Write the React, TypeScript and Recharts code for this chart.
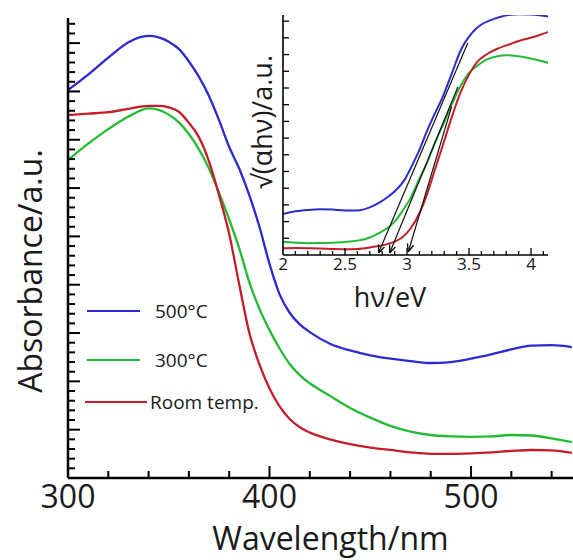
import React from 'react';
import { LineChart, Line, XAxis, YAxis, Legend, Label } from 'recharts';

const FONT = '"Open Sans", "DejaVu Sans", sans-serif';
const TXT = '#1a1a1a';
const BLUE = '#2b2bd0';
const GREEN = '#22bb33';
const RED = '#c41e2a';

// ---------- main chart data ----------
const wavelength = [300, 310, 320, 330, 340, 345, 350, 355, 360, 365, 370, 375, 380, 385, 390, 395, 400, 405, 410, 415, 420, 430, 440, 450, 460, 470, 480, 490, 500, 510, 520, 530, 540, 550];
const abs500 = [8.03, 8.35, 8.7, 9.02, 9.15, 9.12, 9.03, 8.88, 8.62, 8.3, 7.9, 7.4, 6.85, 6.4, 5.85, 5.2, 4.43, 3.8, 3.42, 3.18, 3.02, 2.78, 2.64, 2.54, 2.47, 2.42, 2.38, 2.4, 2.47, 2.56, 2.66, 2.74, 2.75, 2.71];
const abs300 = [6.58, 6.92, 7.22, 7.48, 7.65, 7.62, 7.52, 7.36, 7.12, 6.8, 6.4, 5.9, 5.35, 4.75, 4.05, 3.5, 3.06, 2.68, 2.36, 2.13, 1.96, 1.7, 1.45, 1.25, 1.08, 0.96, 0.89, 0.86, 0.85, 0.86, 0.89, 0.88, 0.82, 0.74];
const absRoom = [7.51, 7.54, 7.57, 7.64, 7.7, 7.7, 7.67, 7.58, 7.35, 7.05, 6.55, 5.85, 5.05, 4.0, 3.0, 2.35, 1.85, 1.48, 1.22, 1.05, 0.94, 0.8, 0.7, 0.63, 0.58, 0.53, 0.5, 0.5, 0.51, 0.53, 0.56, 0.58, 0.57, 0.52];

const seriesNames = ['500°C', '300°C', 'Room temp.'];

const mainXTicks = [300, 320, 340, 360, 380, 400, 420, 440, 460, 480, 500, 520, 540];
const mainXLabels = [300, 400, 500];
const mainYMajor = [1, 2, 3, 4, 5, 6, 7, 8, 9];
const mainYTicks: number[] = [];
for (let i = 1; i <= 47; i++) mainYTicks.push(Math.round(i * 2) / 10);

// ---------- inset data ----------
const insetBlueEv = [2.0, 2.1, 2.2, 2.3, 2.4, 2.5, 2.6, 2.7, 2.78, 2.85, 2.92, 2.98, 3.04, 3.1, 3.16, 3.22, 3.29, 3.36, 3.43, 3.47, 3.51, 3.55, 3.6, 3.67, 3.75, 3.83, 3.9, 3.99, 4.07, 4.14];
const insetBlueV = [2.46, 2.62, 2.7, 2.74, 2.72, 2.67, 2.67, 2.85, 3.15, 3.5, 3.95, 4.5, 5.35, 6.3, 7.4, 8.4, 9.5, 10.85, 12.2, 12.75, 13.17, 13.5, 13.8, 14.05, 14.25, 14.38, 14.42, 14.4, 14.35, 14.28];
const insetGreenEv = [2.0, 2.1, 2.2, 2.3, 2.4, 2.5, 2.6, 2.7, 2.77, 2.84, 2.9, 2.96, 3.02, 3.09, 3.16, 3.23, 3.29, 3.36, 3.43, 3.5, 3.57, 3.64, 3.72, 3.8, 3.88, 3.96, 4.05, 4.14];
const insetGreenV = [0.8, 0.74, 0.7, 0.72, 0.74, 0.78, 0.86, 1.05, 1.3, 1.6, 2.0, 2.6, 3.3, 4.4, 5.5, 6.8, 7.8, 9.0, 10.1, 10.9, 11.35, 11.7, 11.88, 11.96, 11.92, 11.82, 11.67, 11.5];
const insetRedEv = [2.0, 2.1, 2.2, 2.3, 2.4, 2.5, 2.6, 2.7, 2.78, 2.84, 2.9, 2.96, 3.03, 3.1, 3.16, 3.22, 3.29, 3.35, 3.43, 3.5, 3.56, 3.65, 3.73, 3.84, 3.94, 4.04, 4.14];
const insetRedV = [0.4, 0.42, 0.41, 0.39, 0.36, 0.34, 0.36, 0.45, 0.55, 0.65, 0.8, 1.05, 1.6, 2.5, 3.6, 5.0, 6.6, 8.0, 9.7, 10.8, 11.5, 12.05, 12.35, 12.65, 12.9, 13.1, 13.36];

// tangent lines (x-intercept point, then point on the curve)
const tangent500 = [[2.77, 0.12], [3.49, 12.7]];
const tangent300 = [[2.86, 0.12], [3.41, 10.06]];
const tangentRoom = [[3.01, 0.18], [3.36, 8.9]];

const insetXTicks = [2.1, 2.2, 2.3, 2.4, 2.5, 2.6, 2.7, 2.8, 2.9, 3.0, 3.1, 3.2, 3.3, 3.4, 3.5, 3.6, 3.7, 3.8, 3.9, 4.0, 4.1];
const insetXLabels = [2, 2.5, 3, 3.5, 4];
const insetYTicks = [1, 2, 3, 4, 5, 6, 7, 8, 9, 10, 11, 12, 13, 14];

const mainData = wavelength.map((nm, i) => ({ nm, b500: abs500[i], b300: abs300[i], room: absRoom[i] }));
const toPts = (xs: number[], ys: number[]) => xs.map((ev, i) => ({ ev, v: ys[i] }));
const insetBlue = toPts(insetBlueEv, insetBlueV);
const insetGreen = toPts(insetGreenEv, insetGreenV);
const insetRed = toPts(insetRedEv, insetRedV);
const tan = (t: number[][]) => t.map(([ev, v]) => ({ ev, v }));

const MainXTick = (p: any) => {
  const v = p.payload.value;
  const major = v % 100 === 0;
  return (
    <g>
      <line x1={p.x} x2={p.x} y1={p.y} y2={p.y - (major ? 12 : 7)} stroke="#000" strokeWidth={2} />
      {mainXLabels.includes(v) && (
        <text x={p.x} y={p.y + 30} textAnchor="middle" fontFamily={FONT} fontSize={32} fill={TXT}>{v}</text>
      )}
    </g>
  );
};

const MainYTick = (p: any) => {
  const v = p.payload.value;
  const major = mainYMajor.includes(v);
  return <line x1={p.x} x2={p.x + (major ? 12 : 7)} y1={p.y} y2={p.y} stroke="#000" strokeWidth={2} />;
};

const InsetXTick = (p: any) => {
  const v = p.payload.value;
  const major = Math.abs(v * 2 - Math.round(v * 2)) < 1e-6;
  return <line x1={p.x} x2={p.x} y1={p.y} y2={p.y - (major ? 7 : 4)} stroke="#000" strokeWidth={1.3} />;
};

const InsetYTick = (p: any) => (
  <line x1={p.x} x2={p.x + 6} y1={p.y} y2={p.y} stroke="#000" strokeWidth={1.3} />
);

const LegendBox = (props: any) => {
  const rows = [
    { y: 21, x1: 7, x2: 60, tx: 75 },
    { y: 70, x1: 7, x2: 60, tx: 75 },
    { y: 112, x1: 5, x2: 67, tx: 70 },
  ];
  const payload = [...(props.payload || [])].sort(
    (a: any, b: any) => seriesNames.indexOf(a.value) - seriesNames.indexOf(b.value)
  );
  return (
    <svg width={220} height={130} style={{ display: 'block' }}>
      {payload.slice(0, 3).map((item: any, i: number) => (
        <g key={i}>
          <line x1={rows[i].x1} x2={rows[i].x2} y1={rows[i].y} y2={rows[i].y} stroke={item.color} strokeWidth={2} />
          <text x={rows[i].tx} y={rows[i].y + 7} fontFamily={FONT} fontSize={19} fill={TXT}>{item.value}</text>
        </g>
      ))}
    </svg>
  );
};

export default function App() {
  return (
    <div style={{ position: 'absolute', left: 0, top: 0, width: 573, height: 560, background: '#fff', overflow: 'hidden' }}>
      <div style={{ position: 'absolute', left: 0, top: 0 }}>
        <LineChart width={573} height={560} data={mainData} margin={{ top: 18, right: 0, bottom: 0, left: 0 }}>
          <XAxis
            dataKey="nm"
            type="number"
            domain={[300, 550.6]}
            allowDataOverflow
            ticks={mainXTicks}
            interval={0}
            tick={(p: any) => <MainXTick {...p} />}
            tickLine={false}
            tickSize={0}
            tickMargin={0}
            axisLine={{ stroke: '#000', strokeWidth: 2.5 }}
            height={82}
          >
            <Label
              content={(lp: any) => {
                const vb = lp.viewBox;
                return (
                  <text x={vb.x + vb.width / 2 + 10} y={vb.y + 72} textAnchor="middle" fontFamily={FONT} fontSize={32} fill={TXT}>
                    Wavelength/nm
                  </text>
                );
              }}
            />
          </XAxis>
          <YAxis
            type="number"
            domain={[0, 9.52]}
            allowDataOverflow
            ticks={mainYTicks}
            interval={0}
            width={68}
            tick={(p: any) => <MainYTick {...p} />}
            tickLine={false}
            tickSize={0}
            tickMargin={0}
            axisLine={{ stroke: '#000', strokeWidth: 2.5 }}
          >
            <Label
              content={(lp: any) => {
                const vb = lp.viewBox;
                const cx = vb.x + 42;
                const cy = vb.y + vb.height / 2 + 23;
                return (
                  <text x={cx} y={cy} transform={`rotate(-90, ${cx}, ${cy})`} textAnchor="middle" fontFamily={FONT} fontSize={32} fill={TXT}>
                    Absorbance/a.u.
                  </text>
                );
              }}
            />
          </YAxis>
          <Line dataKey="b500" name={seriesNames[0]} type="monotone" stroke={BLUE} strokeWidth={2.3} dot={false} isAnimationActive={false} />
          <Line dataKey="b300" name={seriesNames[1]} type="monotone" stroke={GREEN} strokeWidth={2.3} dot={false} isAnimationActive={false} />
          <Line dataKey="room" name={seriesNames[2]} type="monotone" stroke={RED} strokeWidth={2.3} dot={false} isAnimationActive={false} />
          <Legend
            layout="vertical"
            align="center"
            verticalAlign="middle"
            content={(lp: any) => <LegendBox {...lp} />}
            wrapperStyle={{ left: 80, top: 290, width: 220, height: 130 }}
          />
        </LineChart>
      </div>
      <div style={{ position: 'absolute', left: 233, top: 0 }}>
        <LineChart width={340} height={320} margin={{ top: 15, right: 25, bottom: 0, left: 0 }}>
          <defs>
            <marker id="arrowHead" viewBox="0 0 10 10" refX="10" refY="5" markerWidth="8" markerHeight="8" markerUnits="userSpaceOnUse" orient="auto-start-reverse">
              <path d="M0,1 L10,5 L0,9" fill="none" stroke="#000" strokeWidth={1.6} />
            </marker>
          </defs>
          <XAxis
            dataKey="ev"
            type="number"
            domain={[2, 4.137]}
            allowDataOverflow
            ticks={[2, ...insetXTicks]}
            interval={0}
            tick={(p: any) => (
              <g>
                {p.payload.value !== 2 && <InsetXTick {...p} />}
                {insetXLabels.some((l) => Math.abs(l - p.payload.value) < 1e-6) && (
                  <text x={p.x} y={p.y + 15} textAnchor="middle" fontFamily={FONT} fontSize={17} fill={TXT}>{p.payload.value}</text>
                )}
              </g>
            )}
            tickLine={false}
            tickSize={0}
            tickMargin={0}
            axisLine={{ stroke: '#000', strokeWidth: 1.6 }}
            height={65}
          >
            <Label
              content={(lp: any) => {
                const vb = lp.viewBox;
                return (
                  <text x={vb.x + 107} y={vb.y + 52} textAnchor="middle" fontFamily={FONT} fontSize={27} fill={TXT}>
                    hν/eV
                  </text>
                );
              }}
            />
          </XAxis>
          <YAxis
            type="number"
            domain={[0, 14.37]}
            allowDataOverflow
            ticks={insetYTicks}
            interval={0}
            width={50}
            tick={(p: any) => <InsetYTick {...p} />}
            tickLine={false}
            tickSize={0}
            tickMargin={0}
            axisLine={{ stroke: '#000', strokeWidth: 1.6 }}
          >
            <Label
              content={(lp: any) => {
                const vb = lp.viewBox;
                const cx = vb.x + vb.width - 11;
                const cy = vb.y + 107;
                return (
                  <text x={cx} y={cy} transform={`rotate(-90, ${cx}, ${cy})`} textAnchor="middle" fontFamily={FONT} fontSize={27} fill={TXT}>
                    √(αhν)/a.u.
                  </text>
                );
              }}
            />
          </YAxis>
          <Line data={insetBlue} dataKey="v" type="monotone" stroke={BLUE} strokeWidth={2} dot={false} isAnimationActive={false} legendType="none" />
          <Line data={insetGreen} dataKey="v" type="monotone" stroke={GREEN} strokeWidth={2} dot={false} isAnimationActive={false} legendType="none" />
          <Line data={insetRed} dataKey="v" type="monotone" stroke={RED} strokeWidth={2} dot={false} isAnimationActive={false} legendType="none" />
          <Line data={tan(tangent500)} dataKey="v" type="linear" stroke="#111" strokeWidth={1.2} dot={false} isAnimationActive={false} markerStart="url(#arrowHead)" />
          <Line data={tan(tangent300)} dataKey="v" type="linear" stroke="#111" strokeWidth={1.2} dot={false} isAnimationActive={false} markerStart="url(#arrowHead)" />
          <Line data={tan(tangentRoom)} dataKey="v" type="linear" stroke="#111" strokeWidth={1.2} dot={false} isAnimationActive={false} markerStart="url(#arrowHead)" />
        </LineChart>
      </div>
    </div>
  );
}
